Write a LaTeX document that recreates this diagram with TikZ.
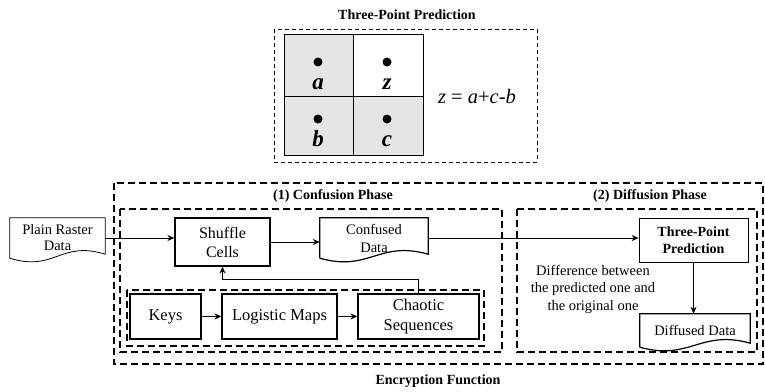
\documentclass[tikz,border=0pt]{standalone}
\usepackage{fontspec}
\setmainfont{Liberation Serif}
\usetikzlibrary{arrows.meta}

\newcommand\fsz[2]{\fontsize{#1}{#2}\selectfont}
\newcommand\docshape[3][1pt]{%
  \draw[line width=#1] (#2.south west) -- (#2.north west) -- (#2.north east) -- ([yshift=4pt]#2.south east)
    .. controls +(-#3,-14) and +(#3,14) .. (#2.south west);}

\begin{document}
\begin{tikzpicture}[x = 1pt, y = -1pt, >={Stealth[length=7pt,width=6pt]},
    box/.style = {draw, line width=1.2pt, inner sep=0pt, align=center},
    doc/.style = {inner sep=0pt, align=center},
    dbox/.style = {line width=1.2pt, dash pattern=on 7pt off 4pt},
    ttl/.style = {font=\bfseries\fsz{14}{16}},
    cell/.style = {fill=black!10}]
    \useasboundingbox (0,0) rectangle (765,391);

    \draw[dbox] (114,183) rectangle (763,364);
    \draw[dbox] (120,209) rectangle (502,352);
    \draw[dbox] (517,209) rectangle (757,352);
    \draw[dbox] (127,290) rectangle (484,346);
    \draw[dbox, line width=1pt, dash pattern=on 4pt off 3pt] (274,29) rectangle (537,162);

    \node[ttl] (tpp) at (407,15) {Three-Point Prediction};
    \node[ttl] (ph1) at (333,196) {(1) Confusion Phase};
    \node[ttl] (ph2) at (650,196) {(2) Diffusion Phase};
    \node[ttl] (enc) at (438,381) {Encryption Function};

    \fill[cell] (284,34) rectangle (353,96) (284,96) rectangle (423,155);
    \draw[line width=0.8pt] (284,34) rectangle (423,155) (353,34) -- (353,155) (284,96) -- (423,96);
    \foreach \px/\py/\l in {318/62/a, 387/62/z, 318/119/b, 387/119/c}{
        \fill (\px,\py) circle (4.5pt);
        \node[anchor=base, font=\bfseries\itshape\fsz{23}{23}] (l-\l) at (\px,\py+27) {\l};
    }
    \node[font=\fsz{20.5}{21}] (eq) at (477,96) {\textit{z} = \textit{a}+\textit{c}-\textit{b}};

    \node[doc, minimum width=95pt, minimum height=40pt, font=\fsz{14.5}{16}] (pr) at (57.5,238) {Plain Raster\\Data};
    \node[box, minimum width=95pt, minimum height=48pt, font=\fsz{16}{19}] (sc) at (222.5,242) {Shuffle\\Cells};
    \node[doc, minimum width=108pt, minimum height=40pt, font=\fsz{14.5}{18}] (cd) at (374,238) {Confused\\Data};
    \node[box, minimum width=71pt, minimum height=45pt, font=\fsz{16.5}{20}] (keys) at (165.5,316.5) {Keys};
    \node[box, minimum width=115pt, minimum height=45pt, font=\fsz{16.5}{20}] (lm) at (279.5,316.5) {Logistic Maps};
    \node[box, minimum width=121pt, minimum height=45pt, font=\fsz{16.5}{20}] (cs) at (418.5,316.5) {Chaotic\\Sequences};
    \node[box, line width=0.7pt, minimum width=109pt, minimum height=44pt, font=\bfseries\fsz{14}{17}] (tp) at (693.5,240) {Three-Point\\Prediction};
    \node[doc, minimum width=110pt, minimum height=33pt, font=\fsz{14.5}{17}] (dd) at (695,330.5) {Diffused Data};
    \node[align=center, font=\fsz{14.5}{17.5}] (dif) at (593,289) {Difference between\\the predicted one and\\the original one};

    \docshape[0.8pt]{pr}{45}
    \docshape[1.2pt]{cd}{50}
    \docshape[1.2pt]{dd}{50}

    \draw[->, line width=1pt] (pr.east) -- (pr.east -| sc.west);
    \draw[->, line width=1pt] (sc.west -| sc.east) -- (sc.west -| cd.west);
    \draw[->, line width=1pt] (cd.east) -- (cd.east -| tp.west);
    \draw[->, line width=1pt] (cs.north) -- ++(0,-14) -| (sc.south);
    \draw[->, line width=1.2pt] (keys) -- (lm);
    \draw[->, line width=1.2pt] (lm) -- (cs);
    \draw[->, line width=0.7pt] (tp.south) -- (tp.south |- dd.north);
\end{tikzpicture}
\end{document}
